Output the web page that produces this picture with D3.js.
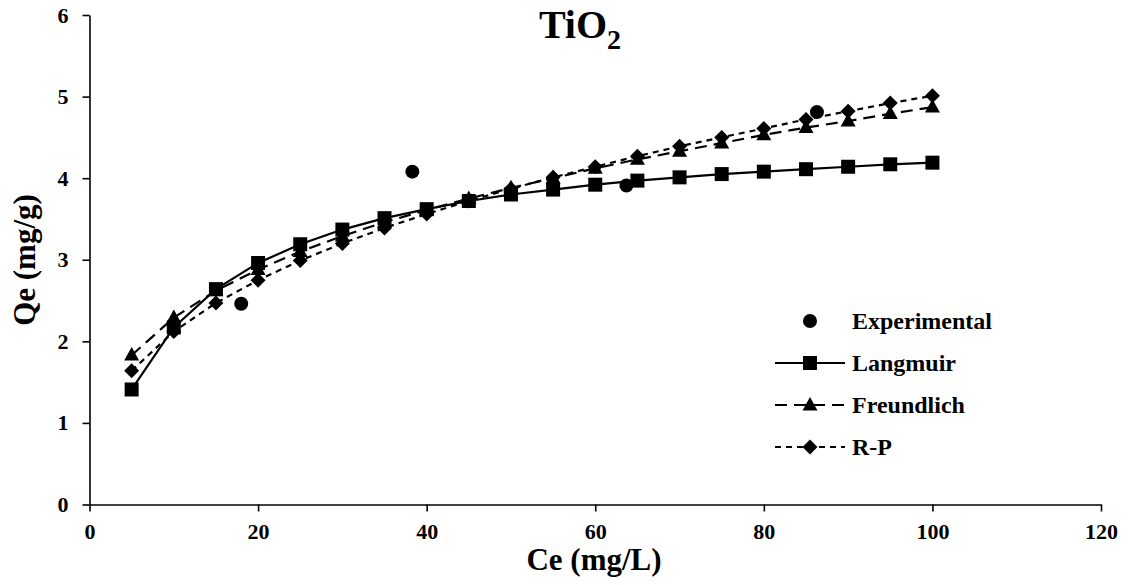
<!DOCTYPE html>
<html>
<head>
<meta charset="utf-8">
<script src="https://cdn.jsdelivr.net/npm/d3@7/dist/d3.min.js"></script>
<style>
  html, body { margin: 0; padding: 0; background: #fff; }
  svg { display: block; font-family: "Liberation Serif", "Times New Roman", serif; font-weight: bold; }
</style>
</head>
<body>
<svg id="chart" width="1131" height="585"></svg>
<script>
// Equilibrium concentration grid used by the model curves (mg/L)
const ceModel = [5, 10, 15, 20, 25, 30, 35, 40, 45, 50, 55, 60, 65, 70, 75, 80, 85, 90, 95, 100];

// Model uptake (mg/g)
const langmuir   = [1.41, 2.17, 2.64, 2.96, 3.19, 3.37, 3.51, 3.62, 3.72, 3.80, 3.86, 3.92, 3.97, 4.01, 4.05, 4.08, 4.11, 4.14, 4.17, 4.19];
const freundlich = [1.83, 2.29, 2.62, 2.88, 3.10, 3.29, 3.46, 3.61, 3.75, 3.88, 4.00, 4.12, 4.23, 4.33, 4.43, 4.53, 4.62, 4.70, 4.79, 4.87];
const redlichPeterson = [1.64, 2.12, 2.47, 2.75, 2.99, 3.20, 3.39, 3.56, 3.72, 3.87, 4.01, 4.14, 4.27, 4.39, 4.50, 4.61, 4.72, 4.82, 4.92, 5.01];

// Measured points
const ceExp = [18.0, 38.3, 63.7, 86.3];
const qeExp = [2.46, 4.08, 3.91, 4.81];

// Axis ticks
const xTicks = [0, 20, 40, 60, 80, 100, 120];
const yTicks = [0, 1, 2, 3, 4, 5, 6];

const legendLabels = ["Experimental", "Langmuir", "Freundlich", "R-P"];

const svg = d3.select("#chart");

const x = d3.scaleLinear().domain([0, 120]).range([89.5, 1101]);
const y = d3.scaleLinear().domain([0, 6]).range([504.5, 15]);

// Axes
const xAxis = d3.axisBottom(x).tickValues(xTicks).tickFormat(d3.format("d"))
  .tickSize(7).tickSizeOuter(0).tickPadding(11);
const yAxis = d3.axisLeft(y).tickValues(yTicks).tickFormat(d3.format("d"))
  .tickSize(7).tickSizeOuter(0).tickPadding(14);

const gx = svg.append("g").attr("transform", `translate(0,${y(0)})`).call(xAxis);
const gy = svg.append("g").attr("transform", `translate(${x(0)},0)`).call(yAxis);

[gx, gy].forEach(g => {
  g.select(".domain").attr("stroke", "#000").attr("stroke-width", 1.6);
  g.selectAll(".tick line").attr("stroke", "#000").attr("stroke-width", 1.6);
  g.selectAll(".tick text")
    .attr("fill", "#000")
    .style("font-family", '"Liberation Serif", "Times New Roman", serif')
    .style("font-weight", "bold")
    .style("font-size", "22px");
});
gx.selectAll(".tick text").attr("dy", "0.75em");

// Marker shapes
function markerPath(kind, s) {
  if (kind === "square") return `M${-s/2},${-s/2}h${s}v${s}h${-s}Z`;
  if (kind === "triangle") { const h = s * 0.9; return `M0,${-h*0.6}L${s/2},${h*0.4}L${-s/2},${h*0.4}Z`; }
  if (kind === "diamond") return `M0,${-s/2}L${s/2},0L0,${s/2}L${-s/2},0Z`;
  return d3.symbol(d3.symbolCircle, Math.PI * (s/2) * (s/2))();
}

const series = [
  { values: langmuir,        dash: null,   marker: "square",   size: 14 },
  { values: freundlich,      dash: "12,7", marker: "triangle", size: 15 },
  { values: redlichPeterson, dash: "6,5",  marker: "diamond",  size: 15 }
];

const line = d3.line().x(d => x(d[0])).y(d => y(d[1]));

// Measured points first, model series drawn above them
svg.append("g").selectAll("path")
  .data(d3.zip(ceExp, qeExp))
  .join("path")
  .attr("transform", d => `translate(${x(d[0])},${y(d[1])})`)
  .attr("d", markerPath("circle", 14))
  .attr("fill", "#000");

series.forEach(s => {
  const pts = d3.zip(ceModel, s.values);
  const g = svg.append("g");
  g.append("path")
    .datum(pts)
    .attr("d", line)
    .attr("fill", "none")
    .attr("stroke", "#000")
    .attr("stroke-width", 2.2)
    .attr("stroke-dasharray", s.dash);
  g.selectAll(".m")
    .data(pts)
    .join("path")
    .attr("class", "m")
    .attr("transform", d => `translate(${x(d[0])},${y(d[1])})`)
    .attr("d", markerPath(s.marker, s.size))
    .attr("fill", "#000");
});

// Title
const title = svg.append("text")
  .attr("x", 580).attr("y", 38)
  .attr("text-anchor", "middle")
  .style("font-size", "40px")
  .attr("fill", "#000");
title.append("tspan").text("TiO");
title.append("tspan").attr("dy", 11).style("font-size", "28px").text("2");

// Axis titles
svg.append("text")
  .attr("x", 594).attr("y", 570)
  .attr("text-anchor", "middle")
  .style("font-size", "31px")
  .attr("fill", "#000")
  .text("Ce (mg/L)");

svg.append("text")
  .attr("transform", "translate(35,260) rotate(-90)")
  .attr("text-anchor", "middle")
  .style("font-size", "31px")
  .attr("fill", "#000")
  .text("Qe (mg/g)");

// Legend
const legendKinds = [
  { marker: "circle",   dash: null, line: false, size: 14 },
  { marker: "square",   dash: null, line: true,  size: 14 },
  { marker: "triangle", dash: "12,7", line: true, size: 15 },
  { marker: "diamond",  dash: "6,5",  line: true, size: 15 }
];
const legend = svg.append("g");
legendLabels.forEach((label, i) => {
  const cy = 321 + i * 42;
  const k = legendKinds[i];
  if (k.line) {
    legend.append("line")
      .attr("x1", 775).attr("x2", 845).attr("y1", cy).attr("y2", cy)
      .attr("stroke", "#000").attr("stroke-width", 2.2)
      .attr("stroke-dasharray", k.dash);
  }
  legend.append("path")
    .attr("transform", `translate(810,${cy})`)
    .attr("d", markerPath(k.marker, k.size))
    .attr("fill", "#000");
  legend.append("text")
    .attr("x", 852).attr("y", cy + 8)
    .style("font-size", "24px")
    .attr("fill", "#000")
    .text(label);
});
</script>
</body>
</html>
